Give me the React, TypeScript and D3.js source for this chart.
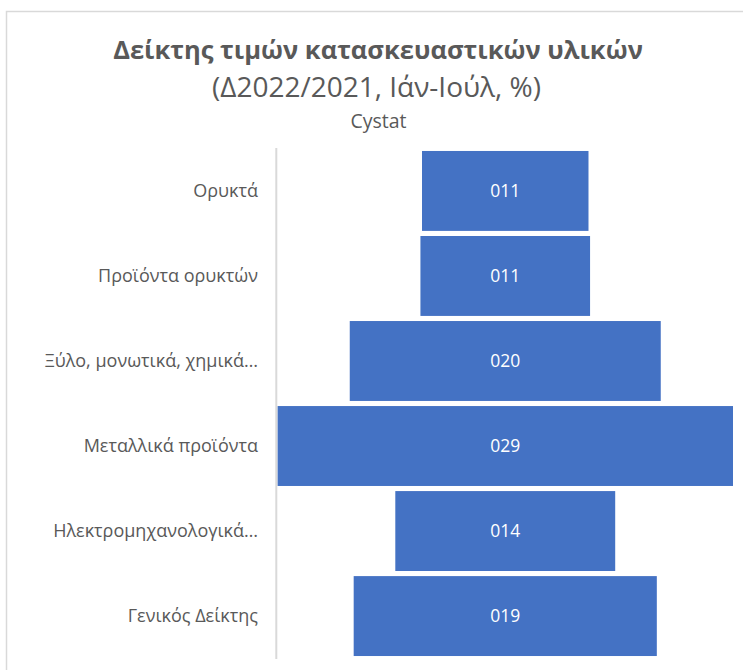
import * as d3 from "d3";

const categories = [
  "Ορυκτά",
  "Προϊόντα ορυκτών",
  "Ξύλο, μονωτικά, χημικά…",
  "Μεταλλικά προϊόντα",
  "Ηλεκτρομηχανολογικά…",
  "Γενικός Δείκτης",
];
const values = [0.106, 0.108, 0.198, 0.29, 0.14, 0.193];

const W = 743,
  H = 670;
const plot = { left: 277.5, right: 733, top: 148, bottom: 659 };
const font = "'Open Sans', sans-serif";
const grey = "#595959";

// 0.29 -> "029" as in the original labels
const fmt = (v: number) => String(Math.round(v * 100)).padStart(3, "0");

export default function App() {
  const y = d3
    .scaleBand<string>()
    .domain(categories)
    .range([plot.top, plot.bottom])
    .paddingInner(0.06)
    .paddingOuter(0.035);

  const maxW = plot.right - plot.left;
  const w = d3
    .scaleLinear()
    .domain([0, d3.max(values) ?? 0])
    .range([0, maxW]);
  const cx = (plot.left + plot.right) / 2;

  return (
    <svg
      width={W}
      height={H}
      style={{ position: "absolute", left: 0, top: 0, background: "#fff" }}
    >
      <rect x={6.5} y={11.5} width={W + 10} height={H + 10} fill="#fff" stroke="#D9D9D9" strokeWidth={1.5} />

      <text x={378} y={59} textAnchor="middle" fontFamily={font} fontWeight={700} fontSize={25.5} fill={grey}>
        Δείκτης τιμών κατασκευαστικών υλικών
      </text>
      <text x={376.5} y={97} textAnchor="middle" fontFamily={font} fontSize={28} fill={grey}>
        (Δ2022/2021, Ιάν-Ιούλ, %)
      </text>
      <text x={378.5} y={128} textAnchor="middle" fontFamily={font} fontSize={19.5} fill={grey}>
        Cystat
      </text>

      {categories.map((c, i) => {
        const bw = w(values[i]);
        const by = y(c) ?? 0;
        return (
          <g key={c}>
            <rect x={cx - bw / 2} y={by} width={bw} height={y.bandwidth()} fill="#4472C4" />
            <text
              x={cx}
              y={by + y.bandwidth() / 2}
              dy="0.35em"
              textAnchor="middle"
              fontFamily={font}
              fontSize={17.5}
              fill="#fff"
            >
              {fmt(values[i])}
            </text>
            <text
              x={258}
              y={by + y.bandwidth() / 2}
              dy="0.35em"
              textAnchor="end"
              fontFamily={font}
              fontSize={18}
              fill={grey}
            >
              {c}
            </text>
          </g>
        );
      })}

      <line x1={276.3} x2={276.3} y1={plot.top} y2={plot.bottom} stroke="#D9D9D9" strokeWidth={2} />
    </svg>
  );
}
